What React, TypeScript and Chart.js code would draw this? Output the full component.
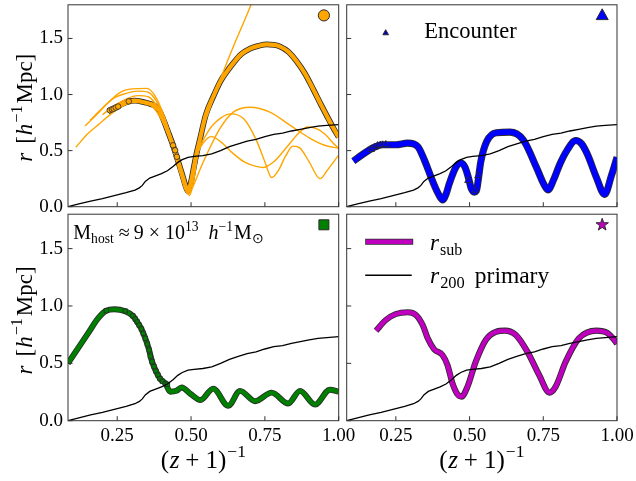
import React, { useEffect, useRef } from 'react';
import { Chart, registerables } from 'chart.js';
Chart.register(...registerables);

// ---------------- data ----------------
const X_MIN = 0.0833;
const X_MAX = 1.0;
const Y_MIN = 0;
const Y_MAX = 1.8;
const xTickValues = [0.25, 0.5, 0.75, 1.0];
const yTickValues = [0, 0.5, 1.0, 1.5];

// r200 of the primary halo (same in every panel)
const r200X = [0.083, 0.12, 0.16, 0.2, 0.24, 0.28, 0.31, 0.325, 0.335, 0.345, 0.36, 0.38, 0.4, 0.42, 0.44, 0.455, 0.47, 0.49, 0.51, 0.54, 0.57, 0.6, 0.63, 0.66, 0.69, 0.72, 0.75, 0.78, 0.81, 0.84, 0.87, 0.9, 0.93, 0.96, 1.0];
const r200Y = [0, 0.025, 0.05, 0.072, 0.098, 0.125, 0.148, 0.168, 0.19, 0.225, 0.255, 0.275, 0.295, 0.32, 0.36, 0.395, 0.42, 0.44, 0.448, 0.455, 0.47, 0.5, 0.535, 0.56, 0.585, 0.6, 0.625, 0.645, 0.655, 0.675, 0.69, 0.705, 0.718, 0.725, 0.732];

// top-left: orange subhalo
const orangeX = [0.219, 0.235, 0.253, 0.27, 0.289, 0.31, 0.343, 0.36, 0.377, 0.392, 0.405, 0.422, 0.439, 0.456, 0.473, 0.482, 0.489, 0.498, 0.51, 0.52, 0.53, 0.55, 0.575, 0.6, 0.62, 0.643, 0.67, 0.7, 0.73, 0.756, 0.78, 0.8, 0.83, 0.858, 0.885, 0.914, 0.94, 0.959, 0.98, 1.0];
const orangeY = [0.849, 0.872, 0.895, 0.92, 0.939, 0.945, 0.93, 0.918, 0.9, 0.86, 0.785, 0.669, 0.547, 0.407, 0.262, 0.18, 0.14, 0.2, 0.36, 0.49, 0.6, 0.82, 0.98, 1.12, 1.2, 1.28, 1.36, 1.41, 1.435, 1.447, 1.443, 1.43, 1.38, 1.294, 1.19, 1.046, 0.91, 0.814, 0.71, 0.62];
const orangeMarkX = [0.225, 0.232, 0.238, 0.245, 0.253, 0.289, 0.439, 0.446, 0.452];
const orangeMarkY = [0.86, 0.868, 0.874, 0.884, 0.893, 0.939, 0.547, 0.503, 0.445];

const thinAX = [0.11, 0.15, 0.19, 0.23, 0.27, 0.31, 0.35, 0.38, 0.41, 0.44, 0.465, 0.485, 0.5, 0.515, 0.545, 0.57, 0.6, 0.64, 0.68, 0.72, 0.745, 0.78, 0.83, 0.87, 0.895, 0.93, 0.96, 0.98, 1.0];
const thinAY = [0.53, 0.65, 0.74, 0.83, 0.9, 0.93, 0.92, 0.86, 0.72, 0.5, 0.28, 0.13, 0.2, 0.42, 0.58, 0.625, 0.58, 0.48, 0.4, 0.36, 0.35, 0.4, 0.55, 0.67, 0.71, 0.69, 0.63, 0.57, 0.52];
const thinBX = [0.141, 0.18, 0.22, 0.26, 0.3, 0.35, 0.38, 0.41, 0.44, 0.47, 0.49, 0.505, 0.52, 0.56, 0.6, 0.635, 0.68, 0.72, 0.75, 0.773, 0.795, 0.82, 0.845, 0.87, 0.9, 0.937, 0.96, 1.0];
const thinBY = [0.72, 0.82, 0.93, 1.02, 1.05, 1.055, 0.98, 0.8, 0.55, 0.3, 0.12, 0.25, 0.45, 0.68, 0.79, 0.828, 0.78, 0.6, 0.4, 0.26, 0.32, 0.45, 0.54, 0.52, 0.4, 0.25, 0.32, 0.46];
const thinCX = [0.158, 0.2, 0.24, 0.28, 0.32, 0.355, 0.385, 0.41, 0.44, 0.47, 0.49, 0.51, 0.53, 0.553, 0.598, 0.643, 0.7, 0.767, 0.835, 0.903, 0.95, 1.0];
const thinCY = [0.77, 0.88, 0.97, 1.01, 1.03, 1.02, 0.93, 0.78, 0.55, 0.28, 0.11, 0.2, 0.33, 0.465, 0.698, 0.843, 0.887, 0.843, 0.727, 0.61, 0.55, 0.52];
const thinDX = [0.2, 0.24, 0.28, 0.32, 0.355, 0.39, 0.42, 0.45, 0.475, 0.495, 0.51, 0.53, 0.56, 0.6, 0.65, 0.7, 0.72];
const thinDY = [0.82, 0.9, 0.96, 0.99, 0.98, 0.87, 0.68, 0.45, 0.22, 0.1, 0.25, 0.6, 0.85, 1.14, 1.47, 1.78, 1.92];

// top-right: blue subhalo
const blueX = [0.106, 0.137, 0.171, 0.205, 0.25, 0.29, 0.324, 0.346, 0.374, 0.395, 0.409, 0.42, 0.431, 0.453, 0.47, 0.485, 0.497, 0.506, 0.516, 0.524, 0.53, 0.538, 0.558, 0.591, 0.637, 0.682, 0.727, 0.75, 0.766, 0.785, 0.806, 0.83, 0.86, 0.88, 0.9, 0.93, 0.958, 0.981, 1.0];
const blueY = [0.407, 0.465, 0.523, 0.552, 0.552, 0.567, 0.537, 0.421, 0.232, 0.11, 0.06, 0.11, 0.203, 0.349, 0.392, 0.35, 0.25, 0.16, 0.13, 0.15, 0.25, 0.4, 0.581, 0.66, 0.665, 0.596, 0.349, 0.21, 0.15, 0.24, 0.378, 0.5, 0.59, 0.56, 0.465, 0.262, 0.11, 0.276, 0.44];
const blueMarkX = [0.166, 0.178, 0.188, 0.197, 0.205, 0.216, 0.495, 0.52, 0.529];
const blueMarkY = [0.51, 0.53, 0.545, 0.55, 0.552, 0.555, 0.233, 0.146, 0.276];

// bottom-left: green subhalo
const greenX = [0.083, 0.117, 0.151, 0.185, 0.213, 0.241, 0.275, 0.303, 0.318, 0.332, 0.345, 0.358, 0.368, 0.381, 0.395, 0.413, 0.429, 0.45, 0.468, 0.5, 0.532, 0.575, 0.626, 0.666, 0.717, 0.773, 0.829, 0.869, 0.92, 0.97, 1.0];
const greenY = [0.5, 0.631, 0.761, 0.892, 0.959, 0.971, 0.956, 0.913, 0.86, 0.799, 0.718, 0.616, 0.514, 0.433, 0.366, 0.325, 0.253, 0.26, 0.29, 0.23, 0.18, 0.28, 0.13, 0.26, 0.17, 0.245, 0.15, 0.26, 0.14, 0.27, 0.253];
const greenMarkX = [0.213, 0.277, 0.303, 0.311, 0.318, 0.324, 0.332, 0.338, 0.345, 0.352, 0.358, 0.362, 0.368, 0.375, 0.381, 0.388, 0.395, 0.403, 0.413, 0.42];
const greenMarkY = [0.959, 0.956, 0.913, 0.886, 0.86, 0.834, 0.799, 0.761, 0.718, 0.668, 0.616, 0.564, 0.514, 0.471, 0.433, 0.398, 0.366, 0.343, 0.325, 0.317];

// bottom-right: magenta subhalo
const magentaX = [0.183, 0.216, 0.25, 0.29, 0.318, 0.341, 0.358, 0.38, 0.408, 0.425, 0.442, 0.459, 0.473, 0.493, 0.521, 0.555, 0.589, 0.62, 0.657, 0.696, 0.736, 0.771, 0.792, 0.826, 0.871, 0.93, 0.967, 0.995, 1.0];
const magentaY = [0.785, 0.878, 0.93, 0.945, 0.922, 0.834, 0.718, 0.622, 0.573, 0.486, 0.326, 0.23, 0.21, 0.297, 0.515, 0.704, 0.775, 0.785, 0.747, 0.602, 0.398, 0.245, 0.297, 0.515, 0.718, 0.785, 0.765, 0.689, 0.67];

// ---------------- layout / style ----------------
const W = 636;
const H = 481;
const FONT = "'Liberation Serif', 'Times New Roman', serif";
const COL = [{ left: 68, right: 338.7 }, { left: 346.7, right: 617 }];
const ROW = [{ top: 0.2, bottom: 206.7 }, { top: 214.2, bottom: 420.7 }];
const Y_AXIS_W = 68;
const X_AXIS_H = 30;
const EDGE = '#2a2a2a';

const pts = (xs: number[], ys: number[]) => xs.map((x, i) => ({ x, y: ys[i] }));

const r200Set = () => ({
  data: pts(r200X, r200Y), borderColor: '#000', borderWidth: 1.3, pointRadius: 0, tension: 0, fill: false,
});
const thickSets = (xs: number[], ys: number[], color: string, w: number) => [
  { data: pts(xs, ys), borderColor: color, borderWidth: w, pointRadius: 0, cubicInterpolationMode: 'monotone', borderCapStyle: 'butt', borderJoinStyle: 'round', fill: false },
  { data: pts(xs, ys), borderColor: EDGE, borderWidth: w + 1.6, pointRadius: 0, cubicInterpolationMode: 'monotone', borderCapStyle: 'butt', borderJoinStyle: 'round', fill: false },
];
const thinSet = (xs: number[], ys: number[]) => ({
  data: pts(xs, ys), borderColor: '#FFA500', borderWidth: 1.4, pointRadius: 0, cubicInterpolationMode: 'monotone', fill: false,
});
const markerSet = (xs: number[], ys: number[], style: string, color: string, r: number) => ({
  data: pts(xs, ys), showLine: false, pointStyle: style, pointRadius: r, pointBackgroundColor: color,
  pointBorderColor: EDGE, pointBorderWidth: 0.8,
});

type Seg = { t: string; it?: boolean; sc?: number; dy?: number; pre?: number };
function drawRich(ctx: CanvasRenderingContext2D, segs: Seg[], x: number, y: number, size: number, align: 'left' | 'center') {
  const parts = segs.map((s) => {
    const fs = size * (s.sc ?? 1);
    const font = `${s.it ? 'italic ' : ''}${fs}px ${FONT}`;
    ctx.font = font;
    return { ...s, font, w: ctx.measureText(s.t).width, pre: s.pre ?? 0 };
  });
  const total = parts.reduce((a, p) => a + p.w + p.pre, 0);
  let cx = align === 'center' ? x - total / 2 : x;
  ctx.textAlign = 'left';
  ctx.textBaseline = 'alphabetic';
  ctx.fillStyle = '#000';
  for (const p of parts) {
    cx += p.pre;
    ctx.font = p.font;
    ctx.fillText(p.t, cx, y + (p.dy ?? 0) * size);
    cx += p.w;
  }
}

function drawMarker(ctx: CanvasRenderingContext2D, kind: string, x: number, y: number, fill: string, s: number) {
  ctx.beginPath();
  if (kind === 'circle') {
    ctx.arc(x, y, s, 0, Math.PI * 2);
  } else if (kind === 'triangle') {
    ctx.moveTo(x, y - s * 1.1);
    ctx.lineTo(x + s, y + s * 0.7);
    ctx.lineTo(x - s, y + s * 0.7);
    ctx.closePath();
  } else if (kind === 'square') {
    ctx.rect(x - s, y - s, 2 * s, 2 * s);
  } else if (kind === 'star') {
    for (let i = 0; i < 10; i++) {
      const r = i % 2 === 0 ? s : s * 0.4;
      const a = -Math.PI / 2 + (i * Math.PI) / 5;
      const px = x + r * Math.cos(a);
      const py = y + r * Math.sin(a);
      if (i === 0) ctx.moveTo(px, py); else ctx.lineTo(px, py);
    }
    ctx.closePath();
  }
  ctx.fillStyle = fill;
  ctx.fill();
  ctx.strokeStyle = EDGE;
  ctx.lineWidth = 1;
  ctx.stroke();
}

const yTitle: Seg[] = [
  { t: 'r', it: true }, { t: '[', pre: 9 }, { t: 'h', it: true, pre: 1 }, { t: '−1', sc: 0.7, dy: -0.42, pre: 1 },
  { t: 'Mpc', pre: 2 }, { t: ']' },
];
const xTitle: Seg[] = [
  { t: '(' }, { t: 'z', it: true, pre: 0.5 }, { t: '+', pre: 6 }, { t: '1', pre: 6 }, { t: ')' }, { t: '−1', sc: 0.7, dy: -0.45, pre: 1 },
];
const hostText: Seg[] = [
  { t: 'M' }, { t: 'host', sc: 0.68, dy: 0.2 }, { t: '≈', pre: 5 }, { t: '9', pre: 4 }, { t: '×', pre: 5 }, { t: '10', pre: 5 },
  { t: '13', sc: 0.68, dy: -0.42 }, { t: 'h', it: true, pre: 10 }, { t: '−1', sc: 0.68, dy: -0.42 }, { t: 'M', pre: 1 }, { t: '⊙', sc: 0.68, dy: 0.2 },
];

type PanelSpec = {
  key: string; col: number; row: number; marker: string; color: string; mSize: number;
  datasets: any[]; extra?: (ctx: CanvasRenderingContext2D, a: any) => void;
};

const PANELS: PanelSpec[] = [
  {
    key: 'tl', col: 0, row: 0, marker: 'circle', color: '#FFA500', mSize: 5.6,
    datasets: [
      r200Set(),
      markerSet(orangeMarkX, orangeMarkY, 'circle', '#FFA500', 2.8),
      thinSet(thinAX, thinAY), thinSet(thinBX, thinBY), thinSet(thinCX, thinCY), thinSet(thinDX, thinDY),
      ...thickSets(orangeX, orangeY, '#FFA500', 4.2),
    ],
    extra: (ctx, a) => {
      ctx.save(); ctx.translate(31.5, (a.top + a.bottom) / 2 + 2); ctx.rotate(-Math.PI / 2);
      drawRich(ctx, yTitle, 0, 0, 23, 'center'); ctx.restore();
    },
  },
  {
    key: 'tr', col: 1, row: 0, marker: 'triangle', color: '#0000FF', mSize: 6,
    datasets: [
      r200Set(),
      markerSet(blueMarkX, blueMarkY, 'triangle', '#0000FF', 4),
      ...thickSets(blueX, blueY, '#0000FF', 5.5),
    ],
    extra: (ctx, a) => {
      drawMarker(ctx, 'triangle', a.left + 39, a.top + 28, '#0000CC', 2.8);
      drawRich(ctx, [{ t: 'Encounter' }], a.left + 77.6, a.top + 33, 22.5, 'left');
    },
  },
  {
    key: 'bl', col: 0, row: 1, marker: 'square', color: '#008000', mSize: 5,
    datasets: [
      r200Set(),
      markerSet(greenMarkX, greenMarkY, 'rect', '#008000', 3.1),
      ...thickSets(greenX, greenY, '#008000', 4.3),
    ],
    extra: (ctx, a) => {
      ctx.save(); ctx.translate(31.5, (a.top + a.bottom) / 2 + 3); ctx.rotate(-Math.PI / 2);
      drawRich(ctx, yTitle, 0, 0, 23, 'center'); ctx.restore();
      drawRich(ctx, xTitle, (a.left + a.right) / 2, 468, 25, 'center');
      drawRich(ctx, hostText, a.left + 5.3, a.top + 25, 20, 'left');
    },
  },
  {
    key: 'br', col: 1, row: 1, marker: 'star', color: '#BF00BF', mSize: 6.5,
    datasets: [
      r200Set(),
      ...thickSets(magentaX, magentaY, '#BF00BF', 4.5),
    ],
    extra: (ctx, a) => {
      drawRich(ctx, xTitle, (a.left + a.right) / 2, 468, 25, 'center');
      const x0 = a.left + 18.5, x1 = a.left + 66.5;
      const y1 = a.top + 27.5, y2 = a.top + 61;
      ctx.save();
      ctx.lineCap = 'butt';
      ctx.strokeStyle = EDGE; ctx.lineWidth = 6.1;
      ctx.beginPath(); ctx.moveTo(x0, y1); ctx.lineTo(x1, y1); ctx.stroke();
      ctx.strokeStyle = '#BF00BF'; ctx.lineWidth = 4.5;
      ctx.beginPath(); ctx.moveTo(x0 + 0.8, y1); ctx.lineTo(x1 - 0.8, y1); ctx.stroke();
      ctx.strokeStyle = '#000'; ctx.lineWidth = 1.4;
      ctx.beginPath(); ctx.moveTo(x0, y2); ctx.lineTo(x1 - 1.5, y2); ctx.stroke();
      ctx.restore();
      drawRich(ctx, [{ t: 'r', it: true }, { t: 'sub', sc: 0.7, dy: 0.2, pre: 1 }], a.left + 83.3, a.top + 36, 23, 'left');
      drawRich(ctx, [{ t: 'r', it: true }, { t: '200', sc: 0.7, dy: 0.2, pre: 1 }, { t: 'primary', pre: 10 }], a.left + 83.3, a.top + 69, 23.5, 'left');
    },
  },
];

function decor(p: PanelSpec) {
  return {
    id: 'decor_' + p.key,
    afterDraw(chart: any) {
      const { ctx, chartArea: a, scales } = chart;
      ctx.save();
      ctx.strokeStyle = '#333';
      ctx.lineWidth = 1;
      ctx.strokeRect(a.left, a.top, a.right - a.left, a.bottom - a.top);
      ctx.beginPath();
      for (const v of xTickValues) {
        const px = scales.x.getPixelForValue(v);
        ctx.moveTo(px, a.bottom); ctx.lineTo(px, a.bottom - 4.5);
      }
      for (const v of yTickValues) {
        const py = scales.y.getPixelForValue(v);
        ctx.moveTo(a.left, py); ctx.lineTo(a.left + 4.5, py);
      }
      ctx.stroke();
      drawMarker(ctx, p.marker, a.right - 14.8, a.top + 10.6, p.color, p.mSize);
      if (p.extra) p.extra(ctx, a);
      ctx.restore();
    },
  };
}

function buildConfig(p: PanelSpec): any {
  const c = COL[p.col];
  const r = ROW[p.row];
  const showY = p.col === 0;
  const showX = p.row === 1;
  const tickFont = { family: FONT, size: 19 };
  return {
    type: 'line',
    data: { datasets: p.datasets },
    options: {
      responsive: false,
      animation: false,
      events: [],
      devicePixelRatio: 1,
      layout: {
        padding: {
          left: showY ? c.left - Y_AXIS_W : c.left,
          right: W - c.right,
          top: r.top,
          bottom: showX ? H - r.bottom - X_AXIS_H : H - r.bottom,
        },
      },
      plugins: { legend: { display: false }, tooltip: { enabled: false }, title: { display: false } },
      scales: {
        x: {
          type: 'linear', min: X_MIN, max: X_MAX, display: showX,
          grid: { display: false, drawTicks: false }, border: { display: false },
          afterBuildTicks: (s: any) => { s.ticks = xTickValues.map((v) => ({ value: v })); },
          afterFit: (s: any) => {
            if (showX) s.height = X_AXIS_H;
            s.paddingLeft = 0; s.paddingRight = 0; s.paddingTop = 0; s.paddingBottom = 0;
          },
          ticks: {
            autoSkip: false, maxRotation: 0, minRotation: 0, padding: 4, color: '#000', font: tickFont,
            callback: (v: any) => Number(v).toFixed(2),
          },
        },
        y: {
          type: 'linear', min: Y_MIN, max: Y_MAX, display: showY,
          grid: { display: false, drawTicks: false }, border: { display: false },
          afterBuildTicks: (s: any) => { s.ticks = yTickValues.map((v) => ({ value: v })); },
          afterFit: (s: any) => {
            if (showY) s.width = Y_AXIS_W;
            s.paddingLeft = 0; s.paddingRight = 0; s.paddingTop = 0; s.paddingBottom = 0;
          },
          ticks: {
            autoSkip: false, padding: 5, color: '#000', font: tickFont,
            callback: (v: any) => Number(v).toFixed(1),
          },
        },
      },
    },
    plugins: [decor(p)],
  };
}

export default function App() {
  const refs = useRef<(HTMLCanvasElement | null)[]>([]);
  useEffect(() => {
    const charts = PANELS.map((p, i) => new Chart(refs.current[i] as HTMLCanvasElement, buildConfig(p)));
    return () => charts.forEach((ch) => ch.destroy());
  }, []);
  return (
    <div style={{ position: 'absolute', left: 0, top: 0, width: W, height: H, background: '#fff' }}>
      {PANELS.map((p, i) => (
        <canvas
          key={p.key}
          ref={(el) => { refs.current[i] = el; }}
          width={W}
          height={H}
          style={{ position: 'absolute', left: 0, top: 0 }}
        />
      ))}
    </div>
  );
}
